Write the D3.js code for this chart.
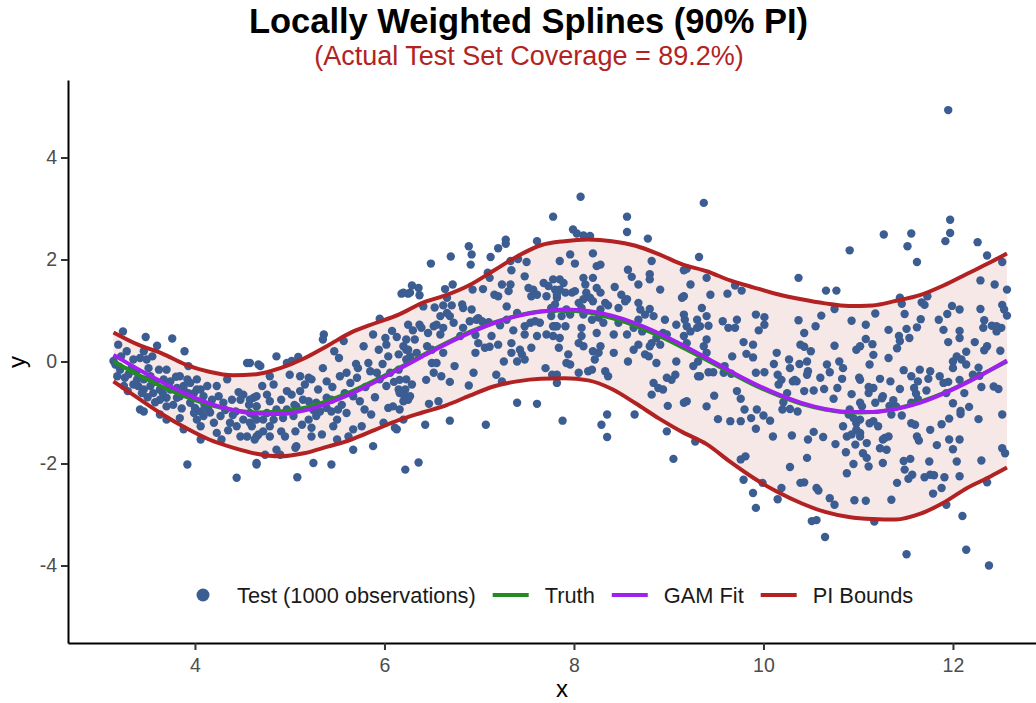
<!DOCTYPE html>
<html>
<head>
<meta charset="utf-8">
<script src="https://cdn.jsdelivr.net/npm/d3@7"></script>
<style>
  body { margin: 0; background: #fff; }
  svg { display: block; font-family: "Liberation Sans", Arial, sans-serif; }
</style>
</head>
<body>
<svg id="chart" width="1036" height="703"></svg>
<script>
// Locally weighted splines: test points, true curve, GAM fit and 90% PI band.

const TITLE = 'Locally Weighted Splines (90% PI)';
const SUBTITLE = '(Actual Test Set Coverage = 89.2%)';

const xTicks = [4, 6, 8, 10, 12];
const yTicks = [-4, -2, 0, 2, 4];

// Shared x grid for the curves.
const curveX = [3.14, 3.4, 3.65, 3.9, 4.15, 4.4, 4.65, 4.9, 5.15, 5.4, 5.65, 5.9, 6.15, 6.4, 6.65,
  6.9, 7.15, 7.4, 7.65, 7.9, 8.15, 8.4, 8.65, 8.9, 9.15, 9.4, 9.65, 9.9, 10.15, 10.4, 10.65, 10.9,
  11.15, 11.4, 11.65, 11.9, 12.15, 12.4, 12.57];
const truthY = [0.00, -0.26, -0.49, -0.69, -0.85, -0.95, -1.00, -0.98, -0.91, -0.77, -0.59, -0.37,
  -0.13, 0.12, 0.36, 0.58, 0.76, 0.90, 0.98, 1.00, 0.96, 0.85, 0.70, 0.50, 0.27, 0.03, -0.22, -0.46,
  -0.66, -0.83, -0.94, -1.00, -0.99, -0.92, -0.79, -0.62, -0.40, -0.16, 0.00];
const gamY = [0.13, -0.15, -0.40, -0.63, -0.82, -0.95, -1.02, -1.03, -0.96, -0.82, -0.63, -0.40,
  -0.15, 0.10, 0.34, 0.56, 0.75, 0.89, 0.98, 1.02, 0.99, 0.90, 0.75, 0.55, 0.32, 0.07, -0.19, -0.43,
  -0.64, -0.81, -0.93, -0.99, -0.99, -0.93, -0.81, -0.63, -0.41, -0.16, 0.02];
const upperY = [0.57, 0.33, 0.16, -0.06, -0.20, -0.27, -0.25, -0.13, 0.06, 0.31, 0.57, 0.75, 0.92,
  1.15, 1.30, 1.50, 1.78, 2.06, 2.28, 2.36, 2.39, 2.36, 2.27, 2.10, 1.90, 1.77, 1.59, 1.45, 1.32,
  1.22, 1.14, 1.09, 1.10, 1.19, 1.30, 1.49, 1.72, 1.95, 2.12];
const lowerY = [-0.39, -0.72, -1.03, -1.30, -1.53, -1.69, -1.81, -1.86, -1.80, -1.67, -1.53, -1.34,
  -1.15, -1.00, -0.86, -0.67, -0.49, -0.39, -0.34, -0.33, -0.37, -0.54, -0.82, -1.12, -1.39, -1.62,
  -1.97, -2.29, -2.56, -2.78, -2.95, -3.05, -3.09, -3.10, -2.99, -2.77, -2.48, -2.25, -2.08];

// Test observations [x, y], read region by region from the picture.
const testObs = [
  [3.24,0.59],[3.48,0.48],[3.76,0.45],[3.60,0.31],[3.89,0.20],[3.19,0.33],[3.28,0.20],[3.46,0.20],[3.35,0.04],[3.42,0.07],
  [3.16,-0.06],[3.14,0.01],[3.18,-0.29],[3.26,-0.32],[3.25,-0.48],[3.35,-0.45],[3.40,-0.48],[3.46,-0.35],[3.39,-0.35],[3.51,-0.13],
  [3.62,-0.16],[3.70,-0.16],[3.67,-0.35],[3.74,-0.39],[3.63,-0.55],[3.74,-0.55],[3.84,-0.29],[3.93,-0.09],[3.88,-0.55],[3.95,-0.42],
  [4.02,-0.35],[4.06,-0.55],[4.13,-0.48],[3.99,-0.62],[3.93,-0.62],[3.84,-0.68],[3.70,-0.71],[3.81,-0.71],[3.70,-0.88],[3.63,-0.75],
  [3.46,-0.55],[3.53,-0.48],[3.42,-0.94],[3.46,-0.98],[3.63,-1.04],[3.70,-1.14],[3.84,-1.11],[3.88,-1.33],[3.99,-1.01],[4.02,-1.14],
  [4.06,-1.27],[4.09,-1.07],[4.20,-1.20],[4.23,-0.48],[4.25,-0.68],[4.34,-0.35],[4.30,-0.81],[4.39,-0.75],[4.55,-0.03],[4.67,-0.06],
  [4.51,-0.65],[4.62,-0.71],[4.65,-0.88],[4.37,-1.20],[4.44,-1.27],[4.51,-1.14],[4.55,-1.47],[4.23,-1.40],[4.28,-1.53],[4.06,-1.53],
  [4.65,-1.14],[4.65,-1.47],[3.92,-2.02],[4.44,-2.28],[4.65,-2.02],[3.92,-0.35],[4.02,-0.55],[4.09,-0.68],[3.95,-0.81],[4.00,-0.91],
  [4.06,-0.98],[3.88,-0.48],[3.81,-0.52],[3.56,-0.62],[3.53,-0.29],[3.33,-0.13],[3.21,-0.16],[3.49,0.04],[4.14,-0.94],[4.18,-0.75],
  [4.48,-0.75],[4.58,-1.01],[4.43,-0.98],[4.27,-1.07],[4.48,-1.47],[4.60,-1.27],[3.20,-0.10],[3.30,-0.25],[3.38,-0.20],[3.44,-0.62],
  [3.58,-0.40],[3.66,-0.62],[3.77,-0.85],[3.80,-0.30],[3.97,-0.70],[4.10,-0.85],[4.16,-1.00],[4.32,-0.95],[4.40,-1.05],[4.46,-0.60],
  [4.57,-0.85],[4.62,-1.05],[4.35,-1.35],[3.58,-0.80],[3.50,-0.70],[3.29,-0.58],[3.22,0.10],[3.55,0.10],[3.72,-0.45],[3.86,-0.92],
  [6.18,1.33],[6.25,1.33],[5.95,0.84],[6.13,0.48],[6.23,0.23],[5.36,0.53],[5.35,0.43],[5.57,0.40],[5.88,0.53],[6.01,0.46],
  [6.02,0.33],[5.94,0.23],[6.04,0.10],[6.15,0.14],[6.23,0.04],[5.52,0.07],[5.35,-0.13],[5.09,0.09],[4.86,0.10],[4.97,-0.03],
  [5.02,0.01],[4.69,-0.09],[4.58,-0.03],[4.79,-0.29],[5.00,-0.26],[5.11,-0.29],[5.20,-0.32],[5.23,-0.35],[5.39,-0.39],[5.53,-0.29],
  [5.60,-0.22],[5.71,-0.32],[5.64,-0.42],[5.72,-0.13],[5.83,-0.03],[5.85,-0.19],[5.92,-0.22],[5.95,-0.35],[6.06,-0.22],[6.15,-0.16],
  [6.23,-0.35],[6.02,-0.48],[6.15,-0.55],[6.20,-0.65],[6.27,-0.68],[6.04,-0.91],[6.09,-0.88],[6.13,-1.33],[4.71,-0.48],[4.83,-0.45],
  [4.97,-0.58],[5.02,-0.65],[5.11,-0.58],[5.14,-0.75],[4.91,-0.75],[4.65,-0.68],[4.58,-0.75],[4.65,-0.88],[4.79,-0.78],[4.76,-1.01],
  [4.86,-0.94],[4.93,-1.11],[5.04,-1.07],[5.13,-1.24],[4.91,-1.37],[4.95,-1.47],[4.72,-1.37],[4.67,-1.43],[4.58,-1.20],[4.63,-1.53],
  [5.23,-1.30],[5.28,-1.07],[5.32,-0.98],[5.39,-0.91],[5.44,-0.98],[5.51,-0.94],[5.28,-0.81],[5.39,-0.71],[5.20,-0.78],[5.44,-0.75],
  [5.50,-1.14],[5.46,-1.27],[5.34,-1.43],[5.23,-1.47],[5.50,-1.53],[5.62,-1.47],[5.67,-1.33],[5.60,-1.01],[5.67,-0.68],[5.74,-0.78],
  [5.86,-1.04],[5.79,-0.94],[5.76,-1.27],[5.67,-1.73],[5.88,-1.66],[5.99,-1.20],[6.11,-1.30],[6.20,-1.14],[6.22,-2.12],[5.07,-1.66],
  [5.06,-1.69],[4.86,-1.73],[4.90,-1.83],[4.74,-1.83],[4.65,-1.99],[5.25,-1.99],[5.44,-2.02],[5.08,-2.27],[4.79,-1.27],[4.83,-1.14],
  [4.72,-1.14],[4.76,-0.65],[4.97,-0.94],[4.79,-1.47],[5.06,-1.37],[5.20,-1.14],[5.07,-0.88],[5.16,-0.45],[5.30,-0.55],[5.45,-0.50],
  [5.58,-0.62],[5.80,-0.50],[5.90,-0.70],[5.70,-0.05],[5.47,0.20],[5.78,0.30],[6.08,0.60],[5.98,-0.05],[6.10,-0.40],[5.55,-0.85],
  [5.25,-0.95],[5.05,-0.85],
  [7.78,2.84],[7.28,2.39],[7.28,2.31],[7.20,2.22],[6.89,2.26],[6.70,2.06],[6.49,1.92],[6.91,1.90],[7.12,2.05],[7.61,2.36],
  [7.33,1.97],[7.41,2.01],[7.50,1.95],[7.34,1.79],[7.48,1.67],[7.09,1.74],[7.11,1.64],[7.24,1.51],[7.33,1.51],[7.31,1.38],
  [7.52,1.44],[7.57,1.41],[7.68,1.54],[7.73,1.48],[7.80,1.41],[7.82,1.25],[7.71,1.28],[7.61,1.31],[7.55,1.28],[6.29,1.49],
  [6.20,1.35],[6.27,1.35],[6.37,1.30],[6.72,1.51],[6.64,1.42],[6.93,1.41],[7.04,1.42],[7.16,1.31],[7.20,1.28],[6.66,1.25],
  [6.82,1.12],[6.83,1.05],[6.71,1.10],[6.62,1.10],[6.53,1.06],[6.41,1.08],[6.66,0.95],[6.69,0.89],[6.73,0.76],[6.59,0.89],
  [6.52,0.69],[6.55,0.72],[6.62,0.66],[6.59,0.53],[6.37,0.72],[6.39,0.66],[6.25,0.72],[6.30,0.61],[6.46,0.56],[6.92,1.02],
  [6.99,0.85],[6.97,0.82],[6.90,0.79],[7.03,0.79],[7.10,0.77],[7.13,0.50],[7.11,0.29],[7.20,0.33],[6.99,0.36],[6.96,0.17],
  [7.36,0.61],[7.48,0.69],[7.40,0.95],[7.29,1.08],[7.29,0.82],[7.22,0.71],[7.54,0.76],[7.59,0.79],[7.64,0.76],[7.61,0.50],
  [7.78,0.69],[7.48,0.53],[7.34,0.36],[7.43,0.23],[7.45,0.14],[7.40,0.00],[7.48,0.04],[7.26,0.00],[7.18,-0.26],[7.24,-0.39],
  [6.94,-0.22],[6.89,-0.47],[6.74,-0.09],[6.60,-0.29],[6.52,-0.22],[6.50,-0.03],[6.55,-0.03],[6.44,-0.36],[6.69,-0.40],[6.57,-0.78],
  [6.47,-0.83],[6.29,-0.45],[6.16,-0.36],[6.22,-0.55],[6.16,-0.62],[6.25,-0.75],[6.20,-0.78],[6.16,-0.94],[6.43,-1.24],[6.69,-1.16],
  [7.07,-1.24],[7.40,-0.81],[7.61,-0.83],[7.70,-0.13],[7.77,-0.26],[7.82,-0.26],[7.82,-0.42],[6.36,-1.98],[6.32,0.43],[6.23,0.43],
  [6.20,0.30],[6.25,0.23],[6.34,0.17],[6.45,0.30],[6.27,0.10],[6.62,0.17],[6.50,0.23],[6.83,0.66],[6.80,0.50],[6.96,0.52],
  [7.06,0.27],[7.34,0.17],[7.55,0.27],[7.71,0.53],[7.78,1.02],[7.76,0.89],[6.92,2.10],[6.36,1.44],
  [8.07,3.23],[9.37,3.11],[8.56,2.84],[8.56,2.54],[7.99,2.59],[8.03,2.51],[8.10,2.47],[8.17,2.46],[8.78,2.41],[9.32,2.05],
  [8.20,2.12],[7.96,2.10],[7.85,1.97],[8.01,1.92],[8.24,1.87],[8.28,1.90],[8.82,1.97],[8.57,1.80],[8.61,1.66],[8.68,1.51],
  [8.80,1.71],[8.80,1.61],[8.91,1.41],[9.16,1.79],[9.19,1.82],[9.23,1.51],[9.16,1.28],[9.14,1.25],[9.40,1.64],[9.35,1.05],
  [9.40,0.89],[9.30,0.82],[7.78,1.61],[7.85,1.61],[7.89,1.54],[7.85,1.41],[7.91,1.35],[7.82,1.31],[7.98,1.35],[8.01,1.38],
  [8.10,1.64],[8.12,1.51],[8.20,1.64],[8.24,1.44],[8.13,1.35],[8.17,1.25],[8.28,1.35],[8.20,1.18],[8.10,1.22],[8.05,1.15],
  [7.80,1.12],[7.76,1.05],[8.43,1.46],[8.50,1.31],[8.54,1.18],[8.56,1.22],[8.68,1.15],[8.70,1.02],[8.75,0.92],[8.80,1.03],
  [8.84,0.89],[8.33,1.15],[8.36,1.10],[8.47,1.05],[8.28,1.02],[8.26,0.86],[8.19,0.82],[8.10,0.92],[8.08,1.05],[7.92,1.02],
  [7.96,0.92],[7.87,0.89],[7.80,0.69],[7.91,0.69],[8.08,0.66],[8.08,0.50],[8.24,0.56],[8.31,0.76],[8.42,0.53],[8.47,0.76],
  [8.56,0.53],[8.68,0.82],[8.96,0.82],[9.08,0.72],[9.16,0.92],[9.17,0.82],[9.19,0.69],[9.23,0.59],[9.30,0.66],[9.16,0.50],
  [9.19,0.36],[9.37,0.30],[9.40,0.43],[9.40,0.17],[9.31,0.00],[8.94,0.56],[8.98,0.53],[8.87,0.46],[8.91,0.33],[8.82,0.36],
  [8.80,0.30],[8.68,0.33],[8.63,0.23],[8.57,0.00],[8.75,0.14],[8.79,0.10],[8.87,-0.03],[9.08,0.00],[9.26,-0.09],[9.31,-0.29],
  [9.07,-0.26],[9.03,-0.36],[8.98,-0.32],[8.84,-0.42],[8.89,-0.52],[8.94,-0.55],[8.82,-0.65],[9.16,-0.81],[9.19,-0.78],[8.99,-0.87],
  [9.40,-0.88],[7.82,0.69],[7.78,0.50],[7.85,0.46],[7.84,0.27],[8.05,0.36],[8.10,0.30],[8.20,0.20],[8.26,0.17],[8.28,0.30],
  [8.22,0.04],[7.94,0.14],[7.92,-0.03],[7.96,-0.06],[8.05,-0.22],[8.15,-0.19],[8.19,-0.16],[8.33,-0.19],[8.36,-0.29],[8.64,-1.04],
  [8.35,-1.04],[8.29,-1.24],[8.35,-1.48],[7.88,-1.16],[8.98,-1.37],[9.05,-1.91],[9.28,-1.57],[8.42,0.17],[8.63,0.66],[8.72,0.59],
  [10.91,2.18],[10.37,1.64],[10.66,1.39],[10.77,1.39],[9.70,1.49],[9.77,1.39],[9.44,1.31],[9.62,1.33],[9.42,0.70],[9.33,0.69],
  [9.57,0.79],[9.63,0.66],[9.70,0.66],[9.72,0.82],[9.92,0.92],[10.01,0.87],[10.01,0.72],[9.95,0.61],[9.79,0.38],[9.89,0.33],
  [9.67,0.10],[9.82,0.15],[9.89,0.08],[10.14,0.17],[10.37,0.81],[10.43,0.56],[10.55,0.69],[10.61,0.90],[10.75,1.03],[10.93,0.80],
  [10.98,0.23],[10.75,0.31],[10.39,0.33],[10.43,0.29],[10.50,0.20],[10.46,0.00],[10.38,-0.05],[10.27,0.04],[10.28,-0.13],[10.11,-0.05],
  [10.01,-0.21],[9.92,-0.22],[10.15,-0.26],[10.19,-0.36],[10.31,-0.39],[10.35,-0.39],[10.33,-0.36],[10.47,-0.19],[10.46,-0.26],[10.60,-0.32],
  [10.67,-0.06],[10.70,-0.21],[10.80,0.00],[10.84,-0.13],[10.83,-0.34],[10.78,-0.52],[11.01,-0.32],[10.93,-0.64],[10.74,-0.73],[10.64,-0.54],
  [10.53,-0.57],[10.43,-0.58],[10.25,-0.62],[10.21,-0.80],[10.20,-0.94],[10.28,-0.93],[10.36,-0.98],[10.16,-0.45],[9.59,-0.09],[9.66,-0.24],
  [9.58,-0.22],[9.47,-0.21],[9.42,-0.21],[9.33,-0.29],[9.48,-0.67],[9.72,-0.58],[9.76,-0.73],[9.80,-0.94],[9.93,-0.94],[10.00,-1.06],
  [9.87,-1.11],[9.76,-1.17],[9.65,-1.17],[9.52,-1.13],[9.92,-1.32],[10.07,-1.16],[10.10,-1.47],[10.30,-1.45],[10.47,-1.53],[10.53,-1.38],
  [10.63,-1.48],[10.76,-1.62],[10.87,-1.78],[10.95,-2.01],[10.88,-2.19],[10.90,-1.04],[10.95,-1.11],[10.98,-1.21],[10.84,-1.27],[10.88,-1.47],
  [10.93,-1.43],[10.97,-1.63],[10.46,-1.89],[10.28,-2.07],[9.81,-1.86],[9.76,-1.92],[9.79,-2.32],[9.89,-2.58],[9.92,-2.87],[9.99,-2.38],
  [10.15,-2.70],[10.19,-2.48],[10.39,-2.38],[10.43,-2.37],[10.56,-2.48],[10.58,-2.53],[10.70,-2.68],[10.75,-2.81],[10.96,-2.72],[10.51,-3.13],
  [10.56,-3.11],[10.65,-3.44],[11.11,-0.62],[11.02,-1.40],[10.91,-0.94],[10.98,-1.34],[11.09,-1.60],
  [11.95,4.93],[11.97,2.78],[11.97,2.52],[11.92,2.36],[11.27,2.49],[11.56,2.51],[11.52,2.26],[11.62,1.95],[12.26,2.34],[12.36,2.08],
  [12.52,1.95],[12.29,1.59],[12.44,1.51],[12.57,1.41],[11.44,1.25],[11.46,1.13],[11.67,1.16],[11.70,1.11],[11.73,1.28],[11.99,1.09],
  [12.07,1.02],[11.94,0.93],[12.29,1.03],[12.52,1.11],[12.54,1.02],[12.57,0.90],[12.33,0.81],[12.32,0.66],[12.41,0.70],[12.46,0.69],
  [12.51,0.66],[12.46,0.59],[11.85,0.82],[11.90,0.62],[12.07,0.60],[12.07,0.46],[11.95,0.38],[11.66,0.83],[11.62,0.67],[11.51,0.64],
  [11.54,0.46],[11.43,0.50],[11.44,0.40],[11.41,0.26],[11.32,0.62],[11.18,0.94],[11.08,0.72],[11.08,0.44],[11.15,0.34],[11.16,0.13],
  [11.12,-0.06],[11.32,0.07],[11.49,0.93],[12.23,0.38],[12.36,0.30],[12.33,0.22],[12.50,0.21],[12.14,0.19],[12.04,0.10],[12.00,0.00],
  [12.09,0.04],[12.14,-0.06],[12.00,-0.13],[12.27,-0.12],[12.21,-0.26],[12.28,-0.28],[12.30,-0.50],[12.43,-0.49],[12.48,-0.54],[12.07,-0.36],
  [11.95,-0.40],[11.90,-0.42],[11.93,-0.62],[11.86,-0.29],[12.12,-0.62],[12.00,-0.82],[12.08,-0.97],[12.08,-1.03],[12.17,-0.89],[11.96,-1.12],
  [11.88,-1.23],[11.76,-1.34],[11.83,-1.64],[11.96,-1.53],[12.07,-1.53],[12.00,-1.72],[12.04,-1.96],[12.30,-1.94],[12.52,-1.70],[12.55,-1.80],
  [12.52,-1.04],[12.27,-1.13],[12.07,-2.25],[11.91,-2.27],[11.88,-2.48],[11.79,-2.59],[11.80,-2.23],[11.76,-2.22],[11.70,-2.27],[11.75,-1.96],
  [11.64,-1.55],[11.62,-1.47],[11.57,-2.22],[11.53,-2.30],[11.49,-2.12],[11.55,-1.91],[11.48,-1.95],[11.41,-2.38],[11.35,-2.71],[11.08,-2.73],
  [11.17,-3.14],[11.93,-2.81],[12.36,-2.37],[12.10,-3.03],[11.51,-3.78],[12.14,-3.69],[12.38,-4.00],[11.26,-1.99],[11.30,-1.73],[11.26,-1.53],
  [11.23,-1.70],[11.09,-1.89],[11.11,-2.06],[11.05,-1.80],[11.02,-1.47],[11.28,-1.50],[11.32,-1.47],[11.21,-1.27],[11.12,-1.21],[11.16,-1.17],
  [11.02,-1.14],[11.46,-1.06],[11.35,-1.04],[11.56,-1.21],[11.60,-1.24],[11.02,-0.81],[11.04,-0.88],[11.26,-0.68],[11.25,-0.72],[11.18,-0.81],
  [11.33,-0.87],[11.40,-0.88],[11.56,-0.81],[11.63,-0.74],[11.72,-0.57],[11.61,-0.63],[11.59,-0.52],[11.63,-0.39],[11.56,-0.29],[11.48,-0.17],
  [11.65,-0.16],[11.76,-0.19],[11.74,-0.34],[11.23,-0.34],[11.34,-0.39],[11.16,-0.52],[11.11,-0.50],[11.02,-0.36],[11.44,-0.54],[11.37,-0.76],
  [11.02,0.30]
];

const legendItems = [
  { label: 'Test (1000 observations)', kind: 'dot', color: '#3b5d91' },
  { label: 'Truth', kind: 'line', color: '#228b22' },
  { label: 'GAM Fit', kind: 'line', color: '#a020f0' },
  { label: 'PI Bounds', kind: 'line', color: '#b22222' },
];

const POINT_COLOR = '#3b5d91';
const TRUTH_COLOR = '#228b22';
const FIT_COLOR = '#a020f0';
const PI_COLOR = '#b22222';

const svg = d3.select('#chart');

// Panel: ggplot-style expanded x range runs past the right edge of the image.
const x = d3.scaleLinear().domain([2.66, 13.04]).range([68, 1051.5]);
const y = d3.scaleLinear().domain([-5.52, 5.52]).range([643, 80]);

const rows = curveX.map((cx, i) => ({ x: cx, truth: truthY[i], gam: gamY[i], lo: lowerY[i], hi: upperY[i] }));

// PI band
svg.append('path')
  .datum(rows)
  .attr('fill', PI_COLOR)
  .attr('fill-opacity', 0.1)
  .attr('d', d3.area().x((d) => x(d.x)).y0((d) => y(d.lo)).y1((d) => y(d.hi)).curve(d3.curveMonotoneX));

// Test points
svg.append('g')
  .selectAll('circle')
  .data(testObs)
  .join('circle')
  .attr('cx', (d) => x(d[0]))
  .attr('cy', (d) => y(d[1]))
  .attr('r', 4.2)
  .attr('fill', POINT_COLOR);

const line = (key) => d3.line().x((d) => x(d.x)).y((d) => y(d[key])).curve(d3.curveMonotoneX);

svg.append('path').datum(rows).attr('fill', 'none').attr('stroke', TRUTH_COLOR)
  .attr('stroke-width', 4).attr('d', line('truth'));
svg.append('path').datum(rows).attr('fill', 'none').attr('stroke', FIT_COLOR)
  .attr('stroke-width', 4).attr('d', line('gam'));
svg.append('path').datum(rows).attr('fill', 'none').attr('stroke', PI_COLOR)
  .attr('stroke-width', 4).attr('d', line('hi'));
svg.append('path').datum(rows).attr('fill', 'none').attr('stroke', PI_COLOR)
  .attr('stroke-width', 4).attr('d', line('lo'));

// Axes (plain hyphen for negatives, as in the original)
function styleAxis(g) {
  g.select('.domain').attr('stroke', '#000').attr('stroke-width', 2);
  g.selectAll('.tick line').attr('stroke', '#333').attr('stroke-width', 2);
  g.selectAll('.tick text').attr('fill', '#4d4d4d').style('font-size', '19.5px');
}

svg.append('g')
  .attr('transform', `translate(0,${y.range()[0]})`)
  .call(d3.axisBottom(x).tickValues(xTicks).tickFormat((d) => String(d))
    .tickSize(7).tickSizeOuter(0).tickPadding(8))
  .call(styleAxis);

svg.append('g')
  .attr('transform', `translate(${x.range()[0]},0)`)
  .call(d3.axisLeft(y).tickValues(yTicks).tickFormat((d) => String(d))
    .tickSize(7).tickSizeOuter(0).tickPadding(4))
  .call(styleAxis);

// Axis titles
svg.append('text')
  .attr('x', 562).attr('y', 697)
  .attr('text-anchor', 'middle')
  .style('font-size', '24px')
  .text('x');

svg.append('text')
  .attr('transform', 'translate(25,362) rotate(-90)')
  .attr('text-anchor', 'middle')
  .style('font-size', '24px')
  .text('y');

// Titles
svg.append('text')
  .attr('x', 528.5).attr('y', 33)
  .attr('text-anchor', 'middle')
  .style('font-size', '34.5px').style('font-weight', 'bold')
  .text(TITLE);

svg.append('text')
  .attr('x', 529).attr('y', 64.5)
  .attr('text-anchor', 'middle')
  .attr('fill', PI_COLOR)
  .style('font-size', '27px')
  .text(SUBTITLE);

// Legend (inside the panel, along the bottom)
const legend = svg.append('g').attr('transform', 'translate(185,595)');
let lx = 0;
legendItems.forEach((item) => {
  if (item.kind === 'dot') {
    legend.append('circle').attr('cx', lx + 18).attr('cy', 0).attr('r', 6.5).attr('fill', item.color);
  } else {
    legend.append('line').attr('x1', lx).attr('x2', lx + 36).attr('y1', 0).attr('y2', 0)
      .attr('stroke', item.color).attr('stroke-width', 4);
  }
  const t = legend.append('text')
    .attr('x', lx + 36 + 16).attr('y', 0).attr('dy', '0.35em')
    .attr('fill', '#1a1a1a')
    .style('font-size', '21.8px')
    .text(item.label);
  lx += 36 + 16 + t.node().getComputedTextLength() + 17;
});
</script>
</body>
</html>
